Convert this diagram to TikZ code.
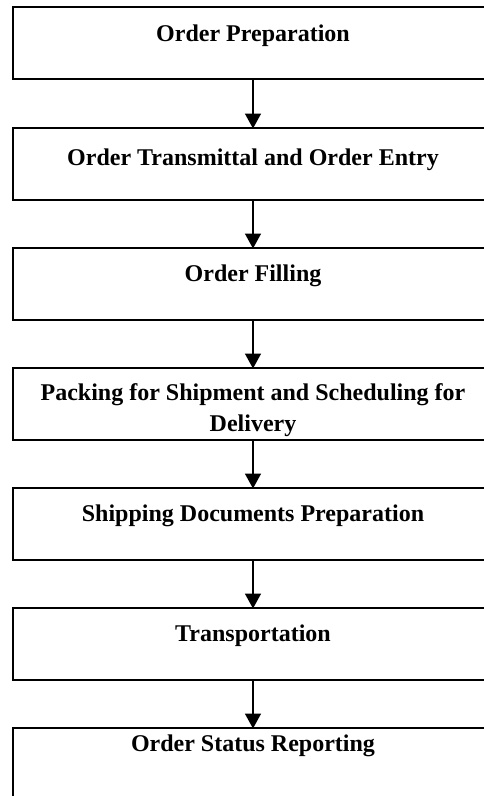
\documentclass[tikz,border=0pt]{standalone}
\usepackage{fontspec}
\setmainfont{Liberation Serif}
\usetikzlibrary{arrows.meta}
\begin{document}
\begin{tikzpicture}[x=1pt,y=-1pt,
  box/.style={draw=black, line width=2pt, minimum width=480pt, minimum height=72pt,
    inner sep=0pt, outer sep=0pt, anchor=north west},
  lbl/.style={anchor=base, inner sep=0pt, align=center,
    font=\fontsize{24}{30.5}\selectfont\bfseries},
  arr/.style={line width=1.6pt, -{Triangle[width=16pt,length=15pt]}, shorten >=-0.5pt}]
\useasboundingbox (0,0) rectangle (484,796);
\clip (0,0) rectangle (484,796);
\fill[white] (0,0) rectangle (484,796);
\node[box] (b1) at (13,7) {};
\node[box] (b2) at (13,128) {};
\node[box] (b3) at (13,248) {};
\node[box] (b4) at (13,368) {};
\node[box] (b5) at (13,488) {};
\node[box] (b6) at (13,608) {};
\node[box] (b7) at (13,728) {};
\node[lbl] (t1) at (253,41.7) {Order Preparation};
\node[lbl] (t2) at (253,165) {Order Transmittal and Order Entry};
\node[lbl] (t3) at (253,281.7) {Order Filling};
\begin{scope}
\clip (b4.north west) rectangle (b4.south east);
\node[lbl] (t4) at (253,431.2) {Packing for Shipment and Scheduling for\\Delivery};
\end{scope}
\node[lbl] (t5) at (253,521.7) {Shipping Documents Preparation};
\node[lbl] (t6) at (253,641.7) {Transportation};
\node[lbl] (t7) at (253,751.7) {Order Status Reporting};
\draw[arr] (b1.south) -- (b2.north);
\draw[arr] (b2.south) -- (b3.north);
\draw[arr] (b3.south) -- (b4.north);
\draw[arr] (b4.south) -- (b5.north);
\draw[arr] (b5.south) -- (b6.north);
\draw[arr] (b6.south) -- (b7.north);
\end{tikzpicture}
\end{document}
